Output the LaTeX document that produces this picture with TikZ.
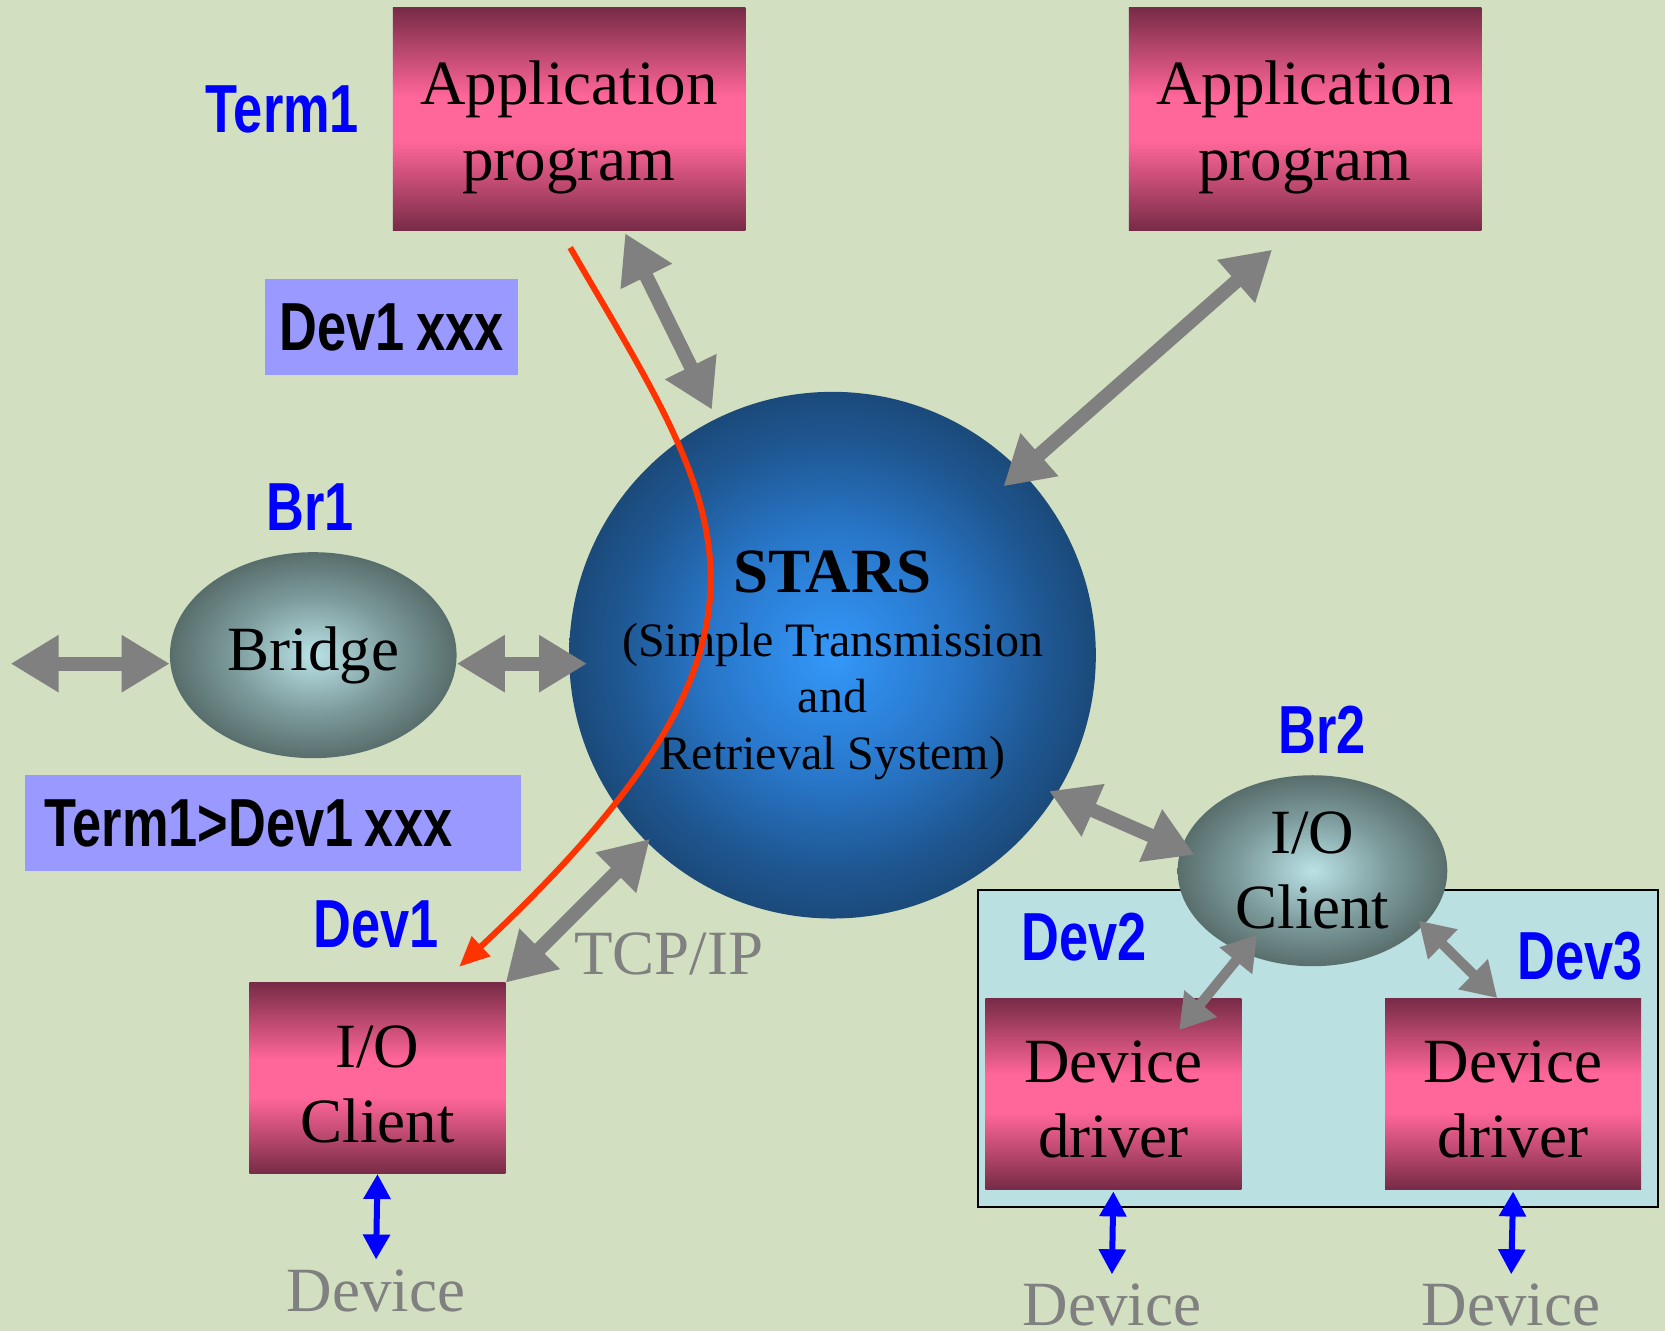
\documentclass[tikz,border=0pt]{standalone}
\usepackage{fontspec}
\setmainfont{Liberation Serif}
\newfontfamily\labfont[FakeStretch=0.77]{Liberation Sans}
\usetikzlibrary{arrows.meta,calc,shapes.geometric,shadings}
\definecolor{bg}{RGB}{210,223,192}
\definecolor{bdark}{RGB}{119,43,70}
\definecolor{bpink}{RGB}{255,102,153}
\definecolor{sc0}{RGB}{52,152,250}
\definecolor{sc1}{RGB}{40,118,200}
\definecolor{sc2}{RGB}{31,88,148}
\definecolor{sc3}{RGB}{27,74,122}
\definecolor{ec0}{RGB}{186,226,230}
\definecolor{ec1}{RGB}{125,155,156}
\definecolor{ec2}{RGB}{88,110,108}
\definecolor{agray}{RGB}{128,128,128}
\definecolor{lav}{RGB}{153,153,255}
\definecolor{cyanbg}{RGB}{187,224,225}
\definecolor{redc}{RGB}{255,51,0}
\pgfdeclareverticalshading{boxsh}{100bp}{color(0bp)=(bdark); color(25bp)=(bdark); color(45bp)=(bpink); color(55bp)=(bpink); color(75bp)=(bdark); color(100bp)=(bdark)}
\pgfdeclareradialshading{starsh}{\pgfpoint{0bp}{0bp}}{color(0bp)=(sc0); color(12bp)=(sc1); color(20bp)=(sc2); color(25bp)=(sc3); color(50bp)=(sc3)}
\pgfdeclareradialshading{ellsh}{\pgfpoint{0bp}{0bp}}{color(0bp)=(ec0); color(14bp)=(ec1); color(25bp)=(ec2); color(50bp)=(ec2)}
\tikzset{
  appbox/.style={rectangle, shading=boxsh, minimum width=352.5pt, minimum height=223pt, inner sep=0pt, align=center, font=\fontsize{63}{76}\selectfont},
  ddbox/.style={rectangle, shading=boxsh, minimum width=256pt, minimum height=191pt, inner sep=0pt, align=center, font=\fontsize{63}{75}\selectfont},
  blob/.style={ellipse, shading=ellsh, inner sep=0pt, align=center, font=\fontsize{63}{75}\selectfont},
  lab/.style={text=blue, anchor=base, inner sep=0pt, font=\labfont\bfseries\fontsize{68}{68}\selectfont},
  lavbox/.style={fill=lav, inner sep=0pt, minimum height=95.6pt, font={\labfont\bfseries\fontsize{68}{68}\selectfont\spaceskip=0.17em\relax}},
  gtext/.style={text=agray, anchor=base, inner sep=0pt, font=\fontsize{63}{63}\selectfont},
  garrow/.style={draw=agray, line width=14pt, arrows={Triangle[length=48pt,width=54pt]-Triangle[length=48pt,width=54pt]}},
  sarrow/.style={draw=agray, line width=10pt, arrows={Triangle[length=34pt,width=40pt]-Triangle[length=34pt,width=40pt]}},
  barrow/.style={draw=blue, line width=6pt, arrows={Triangle[length=25pt,width=26pt]-Triangle[length=25pt,width=26pt]}},
  redarrow/.style={draw=redc, line width=6pt, arrows={-Triangle[length=30pt,width=26pt]}}
}
\newcommand{\upstrut}[1]{\rule{0pt}{#1}}
\begin{document}
\begin{tikzpicture}[x=1.0619pt,y=-1.0619pt]
\useasboundingbox (0,0) rectangle (1568,1253);
\fill[bg] (0,0) rectangle (1568,1253);
% group box
\node[draw=black, line width=2pt, fill=cyanbg, minimum width=680pt, minimum height=317.5pt, inner sep=0pt] (grp) at (1241,987.5) {};
% boxes
\node[appbox] (app1) at (536,112) {\upstrut{60pt}Application\\program};
\node[appbox] (app2) at (1229,112) {\upstrut{60pt}Application\\program};
\node[ddbox] (io1) at (355.5,1015.5) {\upstrut{54pt}I/O\\Client};
\node[ddbox] (dd2) at (1048.5,1030) {\upstrut{54pt}Device\\driver};
\node[ddbox] (dd3) at (1425,1030) {\upstrut{54pt}Device\\driver};
% ellipses
\node[blob, minimum width=286.7pt, minimum height=206pt] (bridge) at (295,617) {Bridge};
\node[blob, minimum width=269.7pt, minimum height=191pt] (iob2) at (1236,820) {I/O\\Client};
% stars
\node[circle, shading=starsh, minimum size=526.7pt, inner sep=0pt, align=center, font=\fontsize{48}{57}\selectfont] (stars) at (784,617)
  {{\fontsize{63}{63}\selectfont\bfseries\upstrut{62pt}STARS}\\[7pt](Simple Transmission\\and\\Retrieval System)};
% lavender boxes
\node[lavbox, minimum width=252.7pt] (d1x) at (369,308) {Dev1 xxx};
\node[lavbox, minimum width=496pt] (tdx) at (257.5,775) {\makebox[458pt][l]{Term1>Dev1 xxx}};
% labels
\node[lab] (lterm1) at (266,125) {Term1};
\node[lab] (lbr1) at (292,500) {Br1};
\node[lab] (ldev1) at (354,892) {Dev1};
\node[lab] (lbr2) at (1245,710) {Br2};
\node[lab] (ldev2) at (1021,905) {Dev2};
\node[lab] (ldev3) at (1488,922) {Dev3};
\node[gtext] (tcp) at (630,918) {TCP/IP};
\node[gtext] (devA) at (354,1235) {Device};
\node[gtext] (devB) at (1047,1248) {Device};
\node[gtext] (devC) at (1423,1248) {Device};
% gray arrows
\coordinate (lfree) at (10,625);
\draw[garrow] (lfree) -- (bridge.west |- lfree);
\draw[garrow] ($(bridge.east)+(0,8)$) -- ($(stars.west)+(17,8)$);
\draw[garrow, shorten <=3pt, shorten >=10pt] (app1) -- (stars);
\draw[garrow] ($(app2.south)+(-31,18)$) -- ($(stars.center)+(161,-159)$);
\draw[garrow] (io1.north east) -- ($(stars.center)+(-172,173)$);
\draw[garrow] ($(stars.center)+(204,128)$) -- ($(iob2.center)+(-111,-15)$);
\draw[sarrow] ($(iob2.center)+(-52,60)$) -- ($(dd2.center)+(62,-60)$);
\draw[sarrow] ($(iob2.center)+(100,47)$) -- ($(dd3.north)+(-15,0)$);
% blue arrows
\draw[barrow, shorten >=10pt] (io1.south) -- (devA.north);
\draw[barrow, shorten <=2pt, shorten >=9pt] (dd2.south) -- (devB.north);
\draw[barrow, shorten <=2pt, shorten >=9pt] (dd3.south) -- (devC.north);
% red curve
\draw[redarrow] ($(app1.south)+(1,16)$) .. controls (680,480) and (775,590) .. ($(io1.north)+(77,-15)$);
\end{tikzpicture}
\end{document}
